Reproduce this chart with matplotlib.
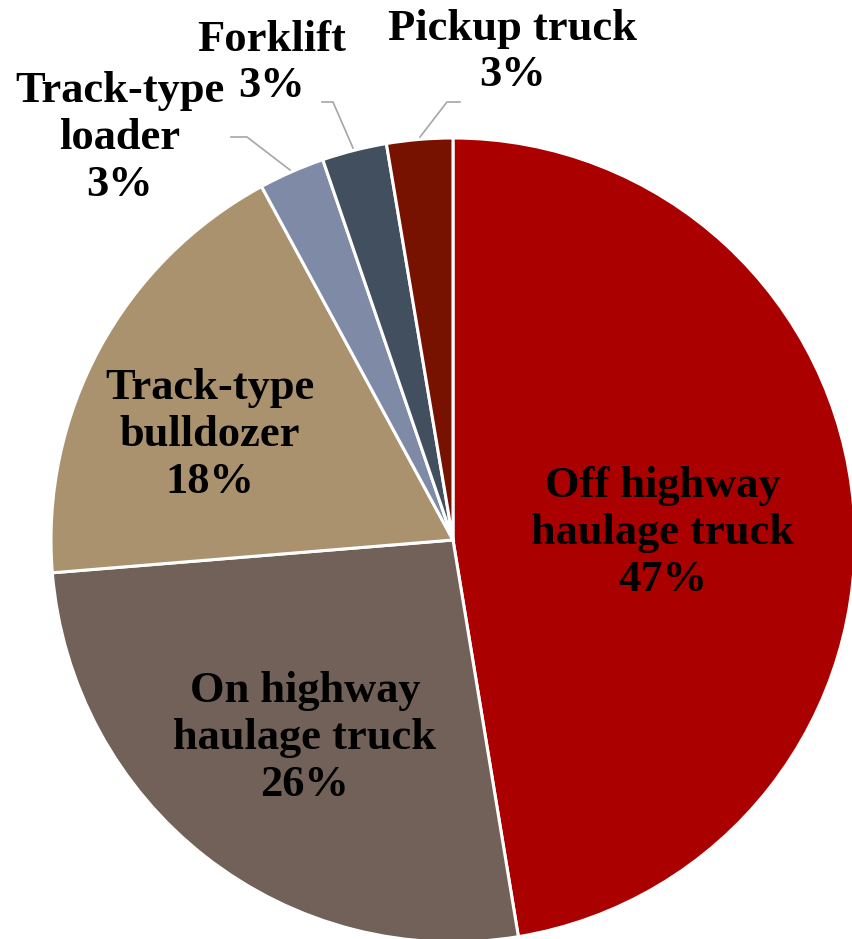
import matplotlib.pyplot as plt

# slice data (clockwise from 12 o'clock)
categories = ['Off highway\nhaulage truck', 'On highway\nhaulage truck', 'Track-type\nbulldozer',
              'Track-type\nloader', 'Forklift', 'Pickup truck']
shares = [47.4, 26.3, 18.4, 2.65, 2.6, 2.65]
colors = ['#AA0000', '#716158', '#AA926F', '#7F8BA6', '#424F5E', '#771100']

H = 939
fig = plt.figure(figsize=(8.53, 9.39), dpi=100)
ax = fig.add_axes([0, 0, 1, 1])

ax.pie(shares, colors=colors, startangle=90, counterclock=False,
       center=(453, H - 540), radius=402, frame=True,
       wedgeprops=dict(edgecolor='white', linewidth=2.2))
ax.set_xlim(0, 853)
ax.set_ylim(0, H)
ax.set_aspect('equal')
ax.axis('off')

font = dict(family='Liberation Serif', fontweight='bold', fontsize=32,
            ha='center', va='center', linespacing=1.22)

def pct(v):
    return f'{v:.0f}%'

# inside labels
inside_pos = [(663, 533), (305, 738), (210, 435)]
for i, (x, y) in enumerate(inside_pos):
    ax.text(x, H - y, f'{categories[i]}\n{pct(shares[i])}', **font)

# outside labels with leader lines
outside_pos = [(120, 138), (272, 63), (513, 52)]
leaders = [[(231, 137), (247, 137), (290, 170)],
           [(322, 102), (333, 102), (353, 148)],
           [(460, 102), (447, 102), (420, 137)]]
for k, (x, y) in enumerate(outside_pos):
    i = k + 3
    ax.text(x, H - y, f'{categories[i]}\n{pct(shares[i])}', **font)
    xs = [p[0] for p in leaders[k]]
    ys = [H - p[1] for p in leaders[k]]
    ax.plot(xs, ys, color='#A6A6A6', linewidth=1.2)

fig.savefig('out.png', dpi=100)
